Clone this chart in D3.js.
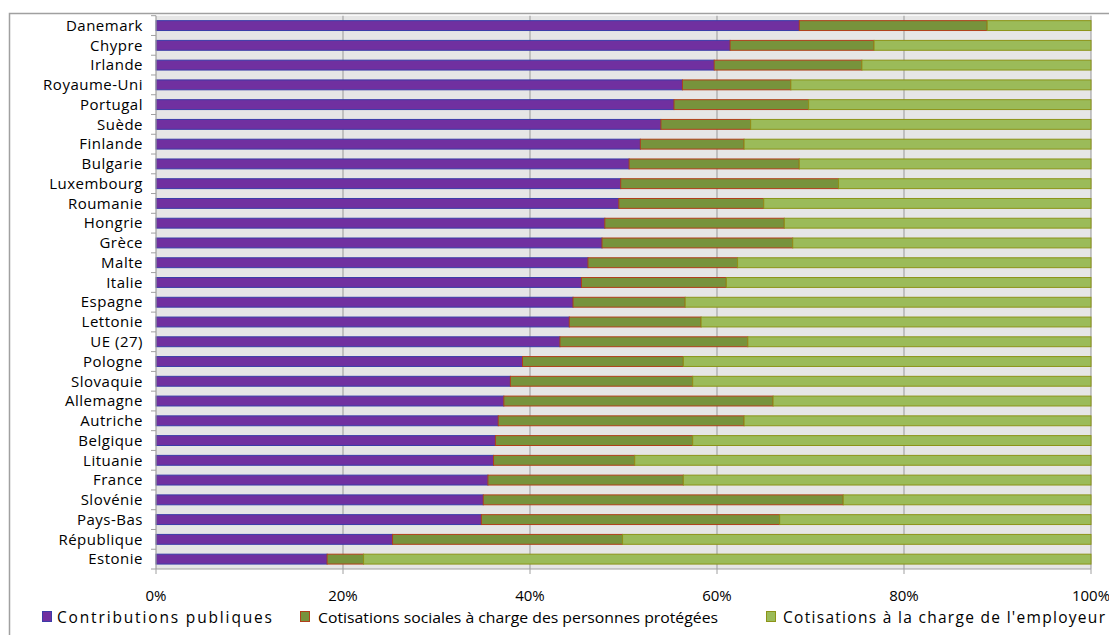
<!DOCTYPE html>
<html><head><meta charset="utf-8">
<script src="https://cdn.jsdelivr.net/npm/d3@7"></script>
<style>
html,body{margin:0;padding:0;background:#fff;}
svg{display:block;font-family:"Open Sans",sans-serif;}
</style></head>
<body>
<svg id="chart" width="1109" height="635"></svg>
<script>
const categories = ["Danemark","Chypre","Irlande","Royaume-Uni","Portugal","Suède","Finlande","Bulgarie","Luxembourg","Roumanie","Hongrie","Grèce","Malte","Italie","Espagne","Lettonie","UE (27)","Pologne","Slovaquie","Allemagne","Autriche","Belgique","Lituanie","France","Slovénie","Pays-Bas","République","Estonie"];
const contributionsPubliques = [68.8,61.4,59.7,56.3,55.4,54.0,51.8,50.6,49.7,49.5,48.0,47.7,46.2,45.5,44.6,44.2,43.2,39.2,37.9,37.2,36.6,36.3,36.1,35.5,35.0,34.8,25.3,18.3];
const cotisationsProtegees = [20.1,15.4,15.8,11.6,14.4,9.6,11.1,18.2,23.3,15.5,19.2,20.4,16.0,15.5,12.0,14.1,20.1,17.2,19.5,28.8,26.3,21.1,15.1,20.9,38.5,31.9,24.6,3.9];
const cotisationsEmployeur = categories.map((c,i)=>+(100-contributionsPubliques[i]-cotisationsProtegees[i]).toFixed(1));
const seriesNames = ["Contributions publiques","Cotisations sociales à charge des personnes protégées","Cotisations à la charge de l'employeur"];
const tickValues = [0,20,40,60,80,100];

const fills = ["#7030a0","#77933c","#9bbb59"];
const strokes = ["#3c3ca8","#b0401a","#8c9418"];

const svg = d3.select("#chart");
const pLeft = 156, pRight = 1091, pTop = 15.7, pBottom = 569;

// outer frame
svg.append("rect").attr("x",9.5).attr("y",13.5).attr("width",1120).attr("height",640)
  .attr("fill","none").attr("stroke","#a0a0a0").attr("stroke-width",1.5);

const x = d3.scaleLinear().domain([0,100]).range([pLeft,pRight]);
const y = d3.scaleBand().domain(categories).range([pTop,pBottom]).paddingInner(0.5).paddingOuter(0.25);
const yOuter = d3.scaleBand().domain(categories).range([pTop,pBottom]);

// plot background
svg.append("rect").attr("x",pLeft).attr("y",pTop).attr("width",pRight-pLeft).attr("height",pBottom-pTop).attr("fill","#e6e6e6");

// vertical gridlines
svg.append("g").selectAll("line").data(tickValues.slice(1)).join("line")
  .attr("x1",d=>x(d)).attr("x2",d=>x(d)).attr("y1",pTop).attr("y2",pBottom)
  .attr("stroke","#a6a6a6").attr("stroke-width",1.2);

// stacked data
const rows = categories.map((c,i)=>({cat:c, vals:[contributionsPubliques[i],cotisationsProtegees[i],cotisationsEmployeur[i]]}));
const keys = [0,1,2];
const stack = d3.stack().keys(keys).value((d,k)=>d.vals[k]);
const stacked = stack(rows);

const gBars = svg.append("g");
stacked.forEach((layer,k)=>{
  gBars.append("g").selectAll("rect").data(layer).join("rect")
    .attr("x",d=>x(d[0])).attr("width",d=>x(d[1])-x(d[0]))
    .attr("y",d=>y(d.data.cat)).attr("height",y.bandwidth())
    .attr("fill",fills[k]).attr("stroke",strokes[k]).attr("stroke-width",1);
});

// left axis
const gy = svg.append("g").attr("transform",`translate(${pLeft},0)`);
gy.append("line").attr("x1",0).attr("x2",0).attr("y1",pTop).attr("y2",pBottom).attr("stroke","#a0a0a0").attr("stroke-width",1.2);
const bounds = categories.map(c=>yOuter(c)).concat([pBottom]);
gy.selectAll("line.t").data(bounds).join("line").attr("class","t")
  .attr("x1",-5).attr("x2",0).attr("y1",d=>d).attr("y2",d=>d).attr("stroke","#a0a0a0");
gy.selectAll("text").data(categories).join("text")
  .attr("x",-13).attr("y",d=>yOuter(d)+yOuter.bandwidth()/2).attr("dy","0.35em")
  .attr("text-anchor","end").attr("font-size","15px").attr("letter-spacing","0.5px").attr("fill","#000")
  .text(d=>d);

// bottom axis
const gx = svg.append("g").attr("transform",`translate(0,${pBottom})`);
gx.append("line").attr("x1",pLeft).attr("x2",pRight).attr("stroke","#a0a0a0").attr("stroke-width",1.2);
gx.selectAll("line.t").data(tickValues).join("line").attr("class","t")
  .attr("x1",d=>x(d)).attr("x2",d=>x(d)).attr("y1",0).attr("y2",5).attr("stroke","#a0a0a0");
gx.selectAll("text").data(tickValues).join("text")
  .attr("x",d=>x(d)).attr("y",32).attr("text-anchor","middle")
  .attr("font-size","15px").attr("fill","#000").text(d=>d+"%");

// legend
const legendItems = [
  {sx:42, tx:57, len:215, fs:15.5, adj:"spacing"},
  {sx:300, tx:318, len:400, fs:15, adj:"spacingAndGlyphs"},
  {sx:766, tx:783, len:322, fs:15.5, adj:"spacing"}
];
const gl = svg.append("g");
legendItems.forEach((it,k)=>{
  gl.append("rect").attr("x",it.sx+0.5).attr("y",611.5).attr("width",9).attr("height",10)
    .attr("fill",fills[k]).attr("stroke",strokes[k]).attr("stroke-width",1);
  gl.append("text").attr("x",it.tx).attr("y",623).attr("font-size",it.fs+"px")
    .attr("textLength",it.len).attr("lengthAdjust",it.adj).attr("fill","#000")
    .text(seriesNames[k]);
});
</script>
</body></html>
